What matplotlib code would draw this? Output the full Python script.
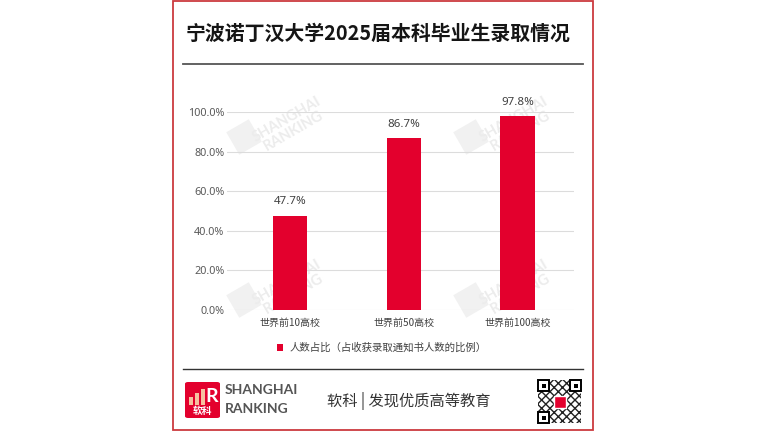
import matplotlib.pyplot as plt
import matplotlib.patches as patches
from matplotlib.transforms import IdentityTransform

plt.rcParams['font.family'] = ['Noto Sans CJK SC', 'DejaVu Sans']
plt.rcParams['hatch.linewidth'] = 1.0

# data
title = "宁波诺丁汉大学2025届本科毕业生录取情况"
categories = ["世界前10高校", "世界前50高校", "世界前100高校"]
values = [47.7, 86.7, 97.8]
series_name = "人数占比（占收获录取通知书人数的比例）"
yticks = [0, 20, 40, 60, 80, 100]
slogan = "软科 | 发现优质高等教育"

RED = '#E3002D'
W, H = 768, 432

def fx(px):
    return px / W

def fy(py):
    return 1 - py / H

fig = plt.figure(figsize=(W/100, H/100), dpi=100)
fig.patch.set_facecolor('white')

# card border
card = patches.Rectangle((fx(173), fy(430)), fx(593) - fx(173), fy(1) - fy(430),
                         transform=fig.transFigure, facecolor='white',
                         edgecolor='#CC3A3F', lw=1.3, zorder=-5)
fig.patches.append(card)

# title + rule
fig.text(fx(378), fy(33), title, ha='center', va='center', fontsize=14.3,
         fontweight='bold', color='#151515')
fig.add_artist(plt.Line2D([fx(183), fx(583)], [fy(64), fy(64)],
                          transform=fig.transFigure, color='#555555', lw=1.3))

# watermarks (pixel coords, origin bottom-left)
for wx, wy in [(244, 137), (471, 137), (244, 300), (471, 300)]:
    fig.patches.append(patches.Rectangle((wx - 13, H - wy - 13), 26, 26, angle=30,
                                         rotation_point='center',
                                         transform=IdentityTransform(),
                                         facecolor='#f1f1f1', edgecolor='none', zorder=-4))
    fig.text(fx(wx + 46), fy(wy - 12), "SHANGHAI\nRANKING", rotation=30,
             ha='center', va='center', fontsize=10.5, color='#ececec',
             family='Lato', fontweight='bold', linespacing=1.0, zorder=-4)

# main chart
ax = fig.add_axes([fx(227), fy(310), (574 - 227)/W, (310 - 112)/H])
ax.set_facecolor('none')
x = range(len(categories))
bars = ax.bar(x, values, width=0.30, color=RED, zorder=3, label=series_name)
for xi, v in zip(x, values):
    ax.annotate(f"{v:.1f}%", xy=(xi, v), xytext=(0, 6), textcoords='offset points',
                ha='center', va='bottom', fontsize=8.3, color='#404040',
                annotation_clip=False, family=['Noto Sans', 'DejaVu Sans'])

ax.set_xlim(-0.554, 2.497)
ax.set_ylim(0, 100)
ax.set_yticks(yticks)
ax.set_yticklabels([f"{t:.1f}%" for t in yticks], family=['Noto Sans', 'DejaVu Sans'])
ax.set_xticks(list(x))
ax.set_xticklabels(categories)
ax.tick_params(axis='y', length=0, pad=2, labelsize=7.8, labelcolor='#595959')
ax.tick_params(axis='x', length=0, pad=6, labelsize=7.2, labelcolor='#404040')
ax.grid(axis='y', color='#dcdcdc', lw=0.8, zorder=0)
for s in ax.spines.values():
    s.set_visible(False)

leg = ax.legend(loc='center', bbox_to_anchor=(fx(382), fy(348)),
                bbox_transform=fig.transFigure, frameon=False, fontsize=7.5,
                handlelength=0.6, handleheight=0.6, handletextpad=0.6)
for t in leg.get_texts():
    t.set_color('#404040')

# footer rule
fig.add_artist(plt.Line2D([fx(183), fx(583)], [fy(369), fy(369)],
                          transform=fig.transFigure, color='#333333', lw=1.0))

# footer logo
logo = patches.FancyBboxPatch((fx(185), fy(418)), 35/W, 36/H,
                              boxstyle='round,pad=0,rounding_size=0.004',
                              transform=fig.transFigure, facecolor=RED, edgecolor='none')
fig.patches.append(logo)
for bx, bh in [(189, 8), (195, 12), (201, 16)]:
    fig.patches.append(patches.Rectangle((fx(bx), fy(405)), 4/W, bh/H,
                                         transform=fig.transFigure,
                                         facecolor='#F6C1A0', edgecolor='none'))
fig.text(fx(212), fy(396), "R", ha='center', va='center', fontsize=14,
         fontweight='bold', color='white', family='Lato')
fig.text(fx(202.5), fy(411), "软科", ha='center', va='center', fontsize=7,
         fontweight='bold', color='white')
fig.text(fx(225), fy(390), "SHANGHAI", ha='left', va='center', fontsize=10,
         color='#555555', family='Lato', fontweight='bold')
fig.text(fx(225), fy(409), "RANKING", ha='left', va='center', fontsize=10,
         color='#555555', family='Lato', fontweight='bold')

fig.text(fx(409), fy(401), slogan, ha='center', va='center', fontsize=11,
         color='#333333')

# qr code placeholder
qx0, qy0, qs = 538, 380, 43
fig.patches.append(patches.Rectangle((fx(qx0), fy(qy0 + qs)), qs/W, qs/H,
                                     transform=fig.transFigure, facecolor='white',
                                     edgecolor='#222222', hatch='xxxx', lw=0))
for cx, cy in [(qx0, qy0), (qx0 + qs - 11, qy0), (qx0, qy0 + qs - 11)]:
    fig.patches.append(patches.Rectangle((fx(cx), fy(cy + 11)), 11/W, 11/H,
                                         transform=fig.transFigure, facecolor='white',
                                         edgecolor='black', lw=1.4))
    fig.patches.append(patches.Rectangle((fx(cx + 3.5), fy(cy + 7.5)), 4/W, 4/H,
                                         transform=fig.transFigure, facecolor='black',
                                         edgecolor='none'))
fig.patches.append(patches.Rectangle((fx(qx0 + qs/2 - 6), fy(qy0 + qs/2 + 6)), 12/W, 12/H,
                                     transform=fig.transFigure, facecolor=RED,
                                     edgecolor='white', lw=1))

fig.savefig('out.png', dpi=100)
